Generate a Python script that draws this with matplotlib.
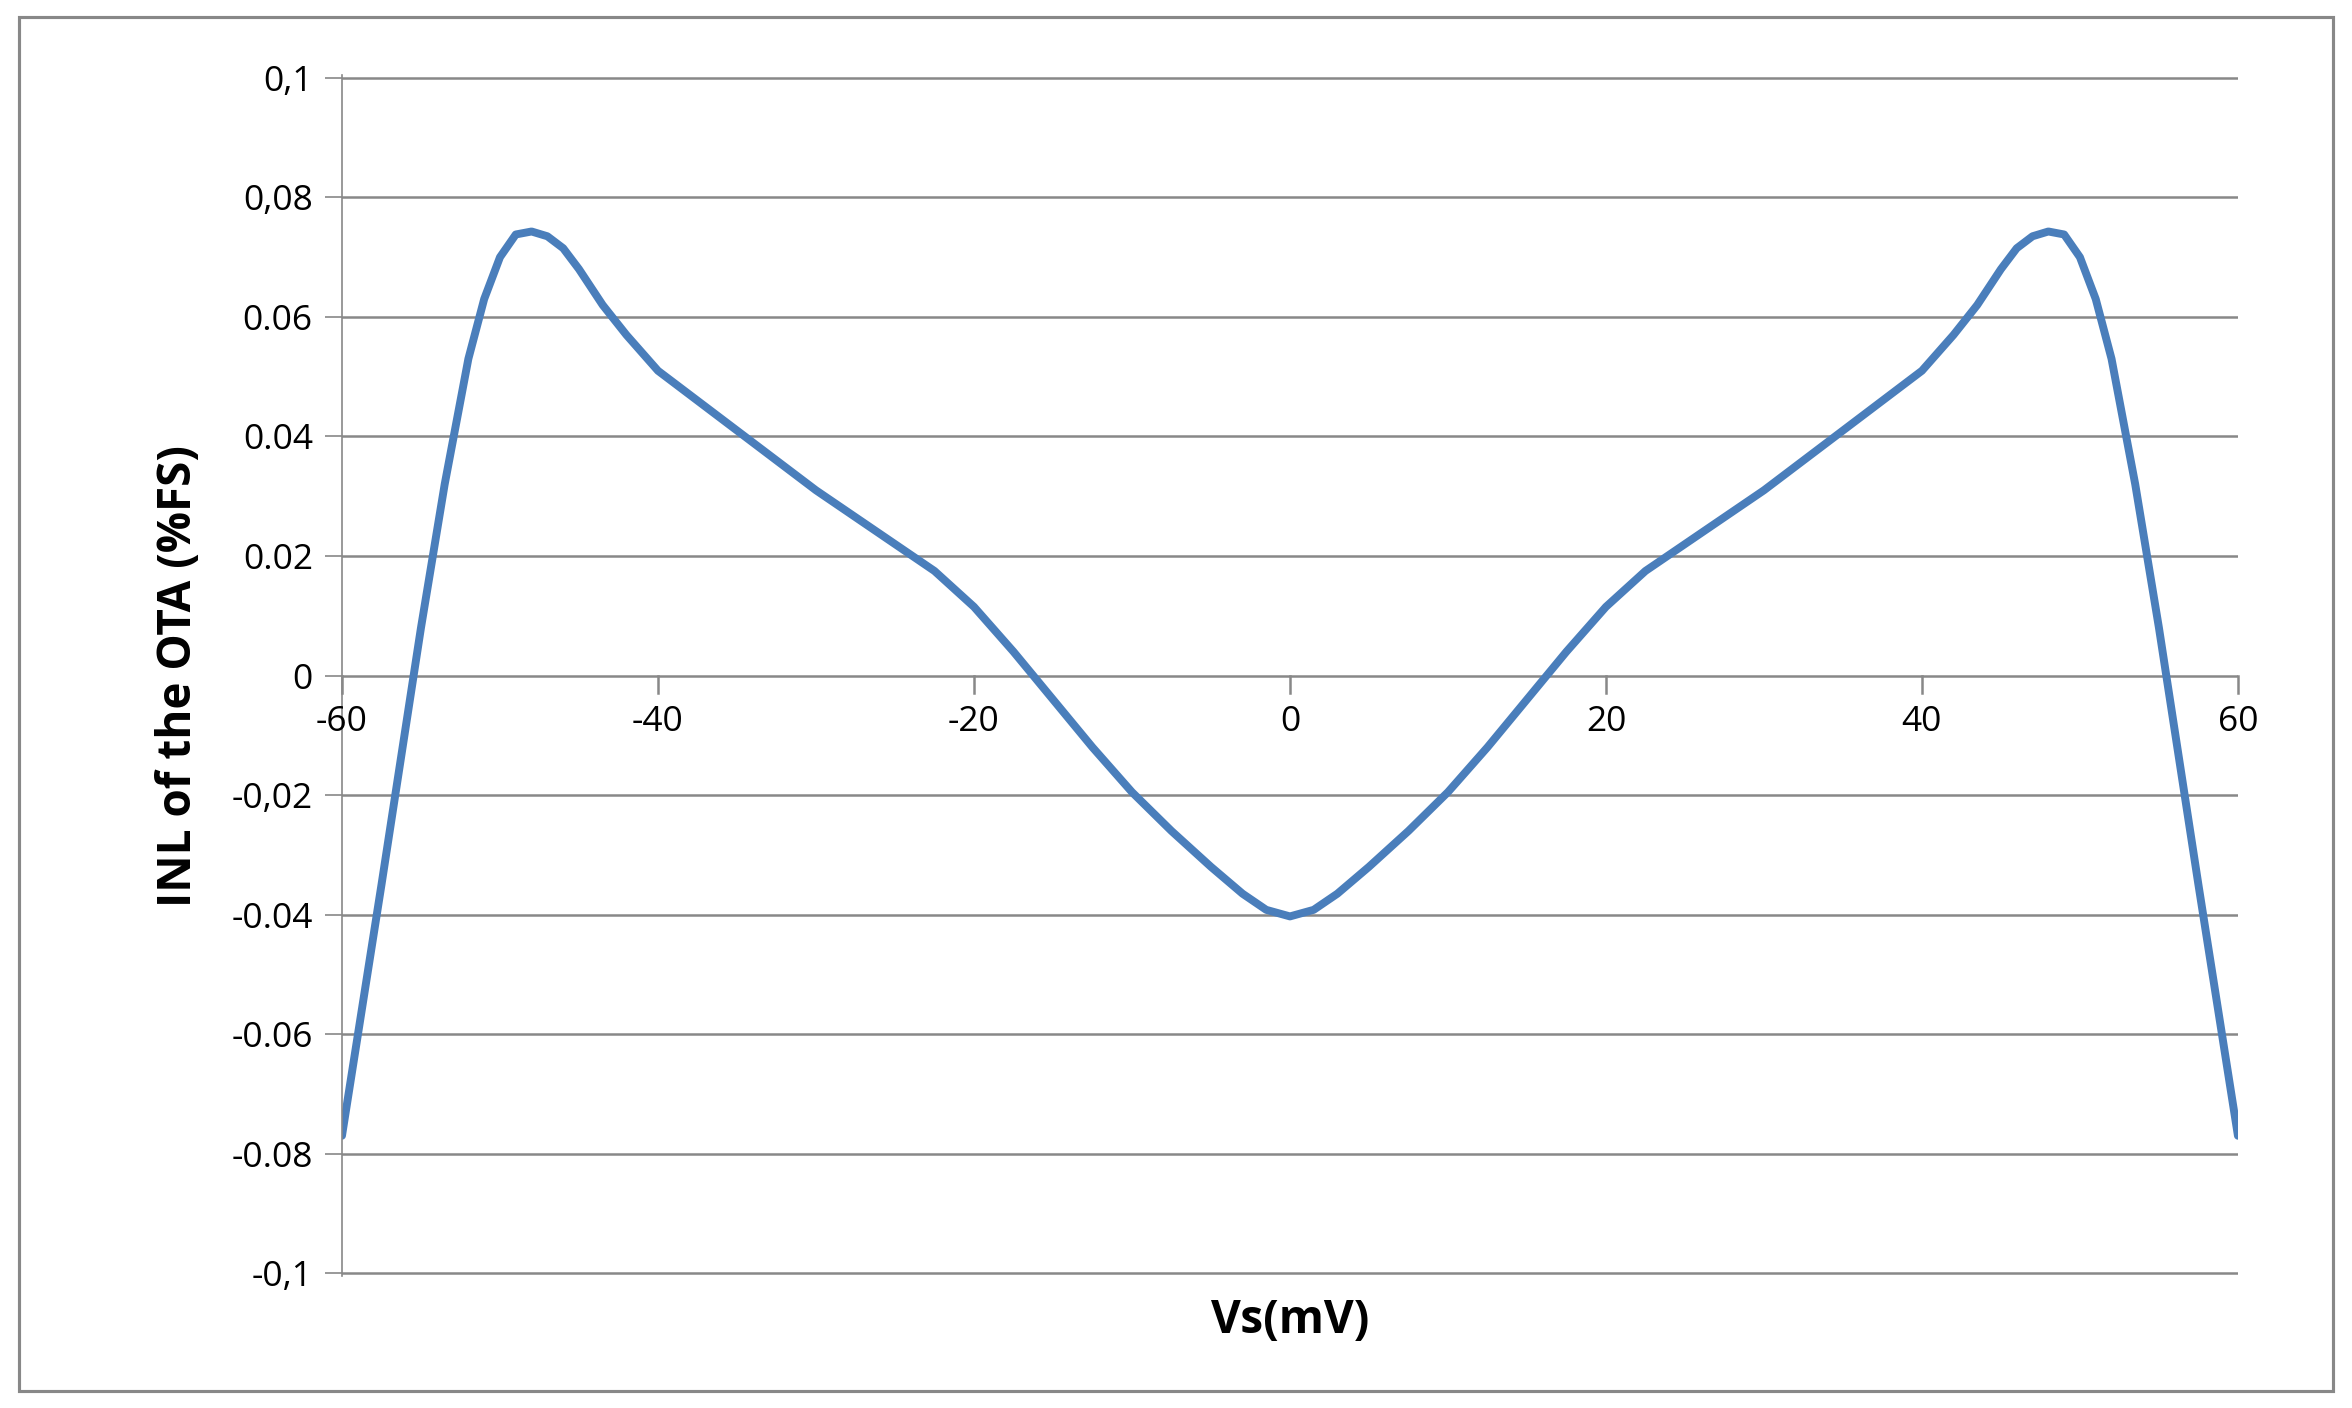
import matplotlib
matplotlib.use("Agg")
import matplotlib.pyplot as plt
from matplotlib.patches import Rectangle

vs_left = [-60, -57.5, -55, -53.5, -52, -51, -50, -49, -48, -47, -46, -45, -43.5, -42, -40, -35, -30, -25, -22.5, -20, -17.5, -15, -12.5, -10, -7.5, -5, -3, -1.5]
inl_left = [-0.077, -0.035, 0.008, 0.032, 0.053, 0.063, 0.070, 0.0738, 0.0743, 0.0735, 0.0715, 0.068, 0.062, 0.057, 0.051, 0.041, 0.031, 0.022, 0.0175, 0.0115, 0.004, -0.004, -0.012, -0.0195, -0.026, -0.032, -0.0365, -0.0392]
vs = vs_left + [0] + [-v for v in reversed(vs_left)]
inl = inl_left + [-0.0403] + list(reversed(inl_left))

yticks = [0.1, 0.08, 0.06, 0.04, 0.02, 0, -0.02, -0.04, -0.06, -0.08, -0.1]
ylabels = ["0,1", "0,08", "0.06", "0.04", "0.02", "0", "-0,02", "-0.04", "-0.06", "-0.08", "-0,1"]
xticks = [-60, -40, -20, 0, 20, 40, 60]

fig = plt.figure(figsize=(2352/150, 1408/150), dpi=150)
fig.patches.append(Rectangle((0.008, 0.012), 0.984, 0.976, transform=fig.transFigure,
                             fill=False, edgecolor="#888888", lw=1.5))
ax = fig.add_axes([0.1454, 0.0936, 0.8061, 0.8532])
ax.plot(vs, inl, color="#4a7ebb", lw=3.8, solid_joinstyle="round", solid_capstyle="round")
ax.set_xlim(-60, 60)
ax.set_ylim(-0.1005, 0.1005)
ax.set_yticks(yticks)
ax.set_yticklabels(ylabels, fontsize=17, family="Open Sans")
ax.set_xticks([])
for y in yticks:
    ax.axhline(y, color="#888888", lw=1.2, zorder=0)
for s in ["top", "right", "bottom"]:
    ax.spines[s].set_visible(False)
ax.spines["left"].set_color("#888888")
ax.tick_params(axis="y", length=8, color="#888888", pad=6)
for x in xticks:
    ax.plot([x, x], [0, -0.003], color="#888888", lw=1.2, clip_on=False)
    ax.text(x, -0.005, str(x), ha="center", va="top", fontsize=17, family="Open Sans")
ax.set_ylabel("INL of the OTA (%FS)", fontsize=22, fontweight="bold", labelpad=14, family="Open Sans")
ax.set_xlabel("Vs(mV)", fontsize=22, fontweight="bold", labelpad=10, family="Open Sans")
fig.savefig("out.png", dpi=150)
